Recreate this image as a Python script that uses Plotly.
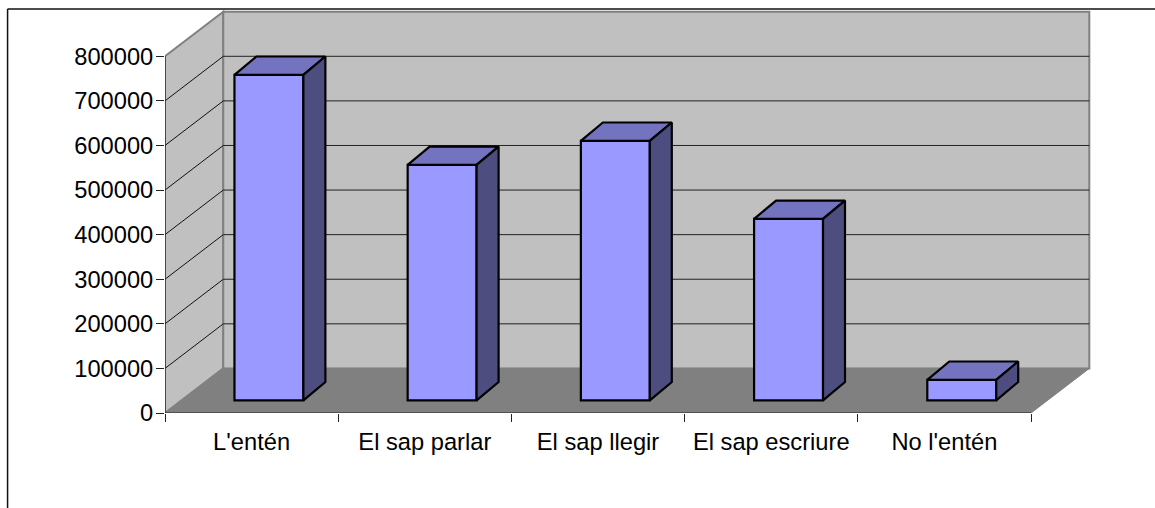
import plotly.graph_objects as go

categories = ["L'entén", "El sap parlar", "El sap llegir", "El sap escriure", "No l'entén"]
values = [730000, 528000, 582000, 407000, 46000]
y_ticks = [0, 100000, 200000, 300000, 400000, 500000, 600000, 700000, 800000]

W, H = 1155, 508
L, B = 164.5, 95        # pixel position of the axes origin
R_PX, T_PX = 1105, 4    # plot-area limits (roomy so wall edges are not clipped)
PX_CAT = 173.3
PX_VAL = 356.7 / 800000
N = len(categories)
WALL_DX, WALL_DY = 58.3 / PX_CAT, 100000
BAR_C, BAR_W = 0.600, 0.398
BAR_DX, BAR_DY = 22 / PX_CAT, 41000
BASE = 28500

FRONT, TOP, SIDE = "#9999FF", "#7373BF", "#4D4D80"
WALL, FLOOR, EDGE = "#C0C0C0", "#808080", "#808080"
FONT = "Liberation Sans, Arial, sans-serif"
FS = 23.7

ymax_val = (H - B - T_PX) / PX_VAL
xmax_val = (R_PX - L) / PX_CAT
pw, ph = R_PX - L, H - B - T_PX
px = lambda v: (v - L) / pw
py = lambda v: (H - B - v) / ph


def poly(pts, fill, line, width=1.0):
    d = "M" + " L".join(f"{x},{y}" for x, y in pts) + " Z"
    return dict(type="path", path=d, xref="x", yref="y", fillcolor=fill,
                line=dict(color=line, width=width), layer="below")


top = y_ticks[-1]
shapes = [
    poly([(0, 0), (WALL_DX, WALL_DY), (WALL_DX, top + WALL_DY), (0, top)], WALL, EDGE, 2),
    poly([(WALL_DX, WALL_DY), (N + WALL_DX, WALL_DY), (N + WALL_DX, top + WALL_DY),
          (WALL_DX, top + WALL_DY)], WALL, EDGE, 2),
    poly([(0, 0), (N, 0), (N + WALL_DX, WALL_DY), (WALL_DX, WALL_DY)], FLOOR, FLOOR, 1),
]

for t in y_ticks[1:-1]:
    shapes.append(dict(type="line", xref="x", yref="y", x0=0, y0=t, x1=WALL_DX, y1=t + WALL_DY,
                       line=dict(color="#111111", width=1), layer="below"))
    shapes.append(dict(type="line", xref="x", yref="y", x0=WALL_DX, y0=t + WALL_DY, x1=N + WALL_DX,
                       y1=t + WALL_DY, line=dict(color="#222222", width=1), layer="below"))

# outer chart border
shapes += [
    dict(type="line", xref="paper", yref="paper", x0=px(7), x1=px(W + 5), y0=py(9), y1=py(9),
         line=dict(color="#111111", width=1.5)),
    dict(type="line", xref="paper", yref="paper", x0=px(7), x1=px(7), y0=py(9), y1=py(H + 5),
         line=dict(color="#111111", width=1.5)),
]

fig = go.Figure()

# front faces
centers = [i + BAR_C for i in range(N)]
fig.add_trace(go.Bar(x=centers, y=values, base=[BASE] * N, width=BAR_W,
                     marker=dict(color=FRONT, line=dict(color="black", width=2.2)),
                     hoverinfo="skip", showlegend=False))

# top and side faces
for c, v in zip(centers, values):
    x0, x1 = c - BAR_W / 2, c + BAR_W / 2
    y0, y1 = BASE, BASE + v
    fig.add_trace(go.Scatter(
        x=[x0, x1, x1 + BAR_DX, x0 + BAR_DX, x0], y=[y1, y1, y1 + BAR_DY, y1 + BAR_DY, y1],
        mode="lines", fill="toself", fillcolor=TOP, line=dict(color="black", width=2.2),
        hoverinfo="skip", showlegend=False))
    fig.add_trace(go.Scatter(
        x=[x1, x1 + BAR_DX, x1 + BAR_DX, x1, x1], y=[y0, y0 + BAR_DY, y1 + BAR_DY, y1, y0],
        mode="lines", fill="toself", fillcolor=SIDE, line=dict(color="black", width=2.2),
        hoverinfo="skip", showlegend=False))

# front axis lines
fig.add_trace(go.Scatter(x=[0, 0], y=[0, top], mode="lines", line=dict(color="#222222", width=1.2),
                         cliponaxis=False, hoverinfo="skip", showlegend=False))
fig.add_trace(go.Scatter(x=[0, N], y=[0, 0], mode="lines", line=dict(color="#222222", width=1.2),
                         cliponaxis=False, hoverinfo="skip", showlegend=False))

fig.update_layout(
    width=W, height=H, autosize=False,
    margin=dict(l=L, r=W - R_PX, t=T_PX, b=B, pad=0),
    paper_bgcolor="white", plot_bgcolor="white",
    font=dict(family=FONT, size=FS, color="black"),
    shapes=shapes, showlegend=False,
    xaxis=dict(range=[0, xmax_val], showgrid=False, zeroline=False, showline=False,
               tickmode="array", tickvals=[i + 0.5 for i in range(N)], ticktext=categories,
               ticks="outside", ticklen=8, tickcolor="rgba(0,0,0,0)", tickfont=dict(size=FS),
               minor=dict(tickmode="array", tickvals=list(range(N + 1)), ticks="outside",
                          ticklen=8, tickwidth=1, tickcolor="#222222", showgrid=False)),
    yaxis=dict(range=[0, ymax_val], showgrid=False, zeroline=False, showline=False,
               tickmode="array", tickvals=y_ticks, ticktext=[str(t) for t in y_ticks],
               ticks="outside", ticklen=8, tickwidth=1, tickcolor="#222222", tickfont=dict(size=FS),
               ticklabelstandoff=-2),
)

fig.write_html("out.html", config=dict(displayModeBar=False),
               post_script="document.body.style.margin='0';document.body.style.overflow='hidden';")
